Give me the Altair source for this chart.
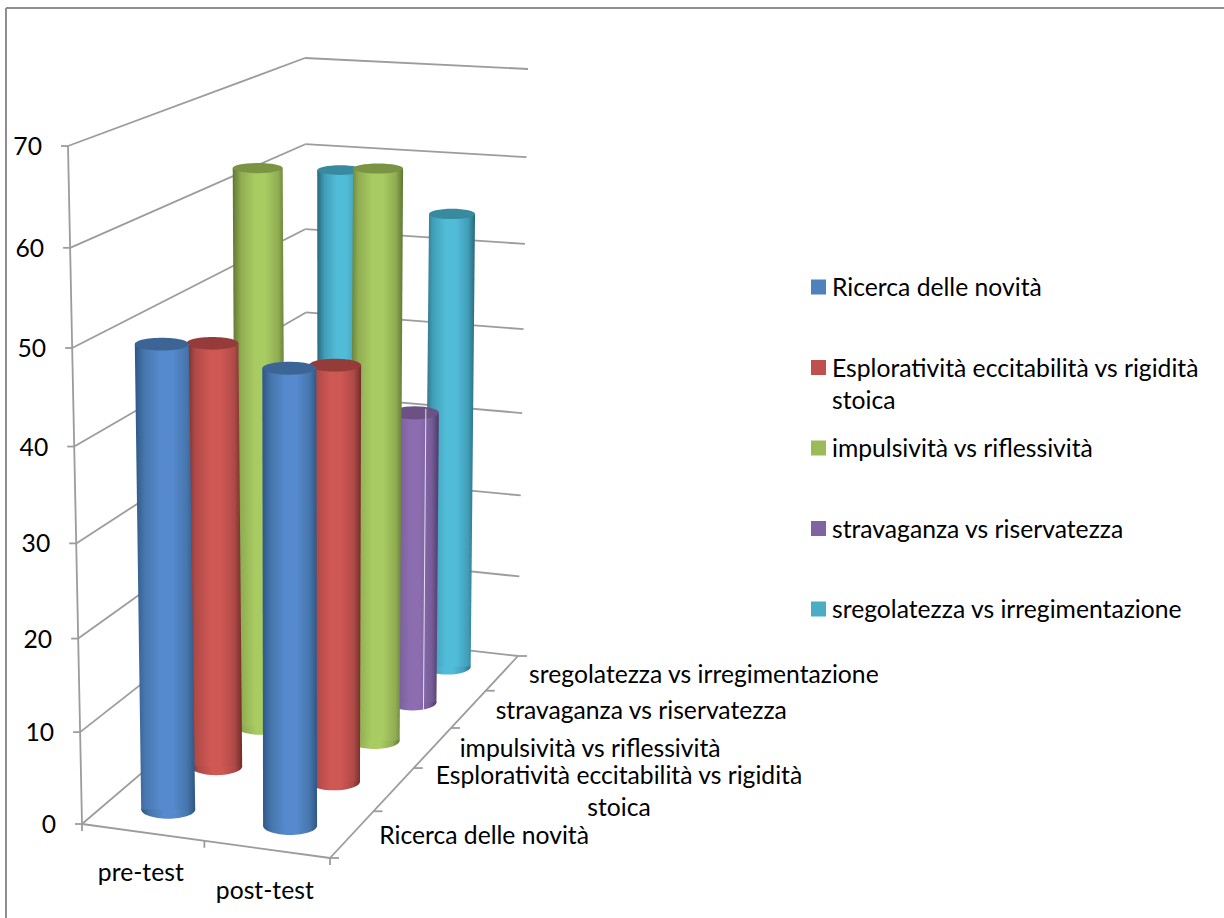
import altair as alt
import numpy as np
import pandas as pd

FONT = "Lato"
FS = 24.7

categories = ["pre-test", "post-test"]
series = [
    "Ricerca delle novità",
    "Esploratività eccitabilità vs rigidità\nstoica",
    "impulsività vs riflessività",
    "stravaganza vs riservatezza",
    "sregolatezza vs irregimentazione",
]
pre_test = [49.5, 46.7, 62.85, 36, 58.4]
post_test = [48.2, 45.5, 63.65, 34.15, 54.2]
value_ticks = [0, 10, 20, 30, 40, 50, 60, 70]

legend_colors = ["#4f81bd", "#c0504d", "#9bbb59", "#8064a2", "#4bacc6"]
edge_colors = ["#2f5685", "#722c2a", "#5f7633", "#4c3a66", "#28697c"]
soft_colors = ["#4676ad", "#ae4a47", "#90ad52", "#775c98", "#419eb7"]
mid_colors = ["#568ace", "#cf5754", "#a8cb62", "#8b6db0", "#51bcd8"]
cap_colors = ["#3c6595", "#953b39", "#7a9444", "#6b5184", "#388a9f"]

VMAX = 70


def homography(corners):
    # Maps the unit square (u, v) onto a quadrilateral given as
    # [(0,0), (1,0), (0,1), (1,1)] image points.
    src = [(0, 0), (1, 0), (0, 1), (1, 1)]
    A, b = [], []
    for (u, v), (x, y) in zip(src, corners):
        A.append([u, v, 1, 0, 0, 0, -u * x, -v * x])
        A.append([0, 0, 0, u, v, 1, -u * y, -v * y])
        b += [x, y]
    h = np.linalg.solve(np.array(A, float), np.array(b, float))
    return np.append(h, 1).reshape(3, 3)


FLOOR = homography([(82, 824), (330, 858), (307, 632), (518, 656)])
CEILING = homography([(68, 146), (333, 165), (305, 58), (528, 69)])


def apply(H, u, v):
    p = H @ np.array([u, v, 1.0])
    return p[0] / p[2], p[1] / p[2]


def project(u, v, value):
    fx, fy = apply(FLOOR, u, v)
    tx, ty = apply(CEILING, u, v)
    t = value / VMAX
    t = t + 0.06 * t * (t - 1)
    return fx + t * (tx - fx), fy + t * (ty - fy)


def ellipse_path(ratio):
    r = round(ratio, 3)
    return f"M-1,0A1,{r} 0 1 1 1,0A1,{r} 0 1 1 -1,0Z"


xs = alt.Scale(domain=[0, 1224], range=[0, 1224], nice=False, zero=False)
ys = alt.Scale(domain=[0, 918], range=[0, 918], nice=False, zero=False)


def X(f="x"):
    return alt.X(f, type="quantitative", scale=xs, axis=None)


def Y(f="y"):
    return alt.Y(f, type="quantitative", scale=ys, axis=None)


def segments(rows, color="#9c9c9c", width=1.8):
    df = pd.DataFrame(rows, columns=["x", "y", "x2", "y2"])
    return alt.Chart(df).mark_rule(color=color, strokeWidth=width).encode(
        x=X(), y=Y(), x2="x2:Q", y2="y2:Q"
    )


def labels(rows, align, baseline="middle", **kw):
    df = pd.DataFrame(rows, columns=["x", "y", "label"])
    return alt.Chart(df).mark_text(
        align=align, baseline=baseline, font=FONT, fontSize=FS, color="#000000", **kw
    ).encode(x=X(), y=Y(), text="label:N")


layers = []

# Outer frame of the chart area
layers.append(segments([(6, 8, 1224, 8), (6, 8, 6, 918)], color="#8e8e8e", width=2))

# Walls: left and back gridlines
wall = []
for val in value_ticks:
    a = project(0, 0, val)
    b = project(0, 1, val)
    c = project(1, 1, val)
    wall.append((*a, *b))
    wall.append((*b, *c))
layers.append(segments(wall))

# Value axis, floor edges and their tick marks
TICK = 7
axis = [(*project(0, 0, 0), *project(0, 0, VMAX))]
for val in value_ticks:
    x, y = project(0, 0, val)
    axis.append((x - TICK, y, x, y))
axis.append((*project(0, 0, 0), *project(1, 0, 0)))
for u in (0, 0.5, 1):
    x, y = project(u, 0, 0)
    axis.append((x, y, x, y + TICK))
axis.append((*project(1, 0, 0), *project(1, 1, 0)))
for k in range(6):
    x, y = project(1, k / 5, 0)
    axis.append((x, y, x + TICK + 2, y))
layers.append(segments(axis))

# Cylinders, drawn from the back row to the front row
values = [pre_test, post_test]
for j in reversed(range(len(series))):
    v = (j + 0.5) / len(series)
    for i in range(len(categories)):
        u = (i + 0.5) / len(categories)
        val = values[i][j]
        bx, by = project(u, v, 0)
        tx, ty = project(u, v, val)
        w = 54 - 10 * (v - 0.1)
        gradient = {
            "gradient": "linear", "x1": 0, "x2": 1, "y1": 0, "y2": 0,
            "stops": [
                {"offset": 0, "color": edge_colors[j]},
                {"offset": 0.16, "color": soft_colors[j]},
                {"offset": 0.42, "color": mid_colors[j]},
                {"offset": 0.62, "color": mid_colors[j]},
                {"offset": 0.86, "color": soft_colors[j]},
                {"offset": 1, "color": edge_colors[j]},
            ],
        }
        ratio_top = 0.36 - 0.0025 * val
        base = pd.DataFrame({"x": [bx], "y": [by]})
        top = pd.DataFrame({"x": [tx], "y": [ty]})
        body = pd.DataFrame({
            "y": [ty, by],
            "xl": [tx - w / 2, bx - w / 2],
            "xr": [tx + w / 2, bx + w / 2],
        })
        layers.append(alt.Chart(base).mark_point(
            shape=ellipse_path(0.34), size=w * w, filled=True, fill=gradient, opacity=1,
            strokeWidth=0,
        ).encode(x=X(), y=Y()))
        layers.append(alt.Chart(body).mark_area(
            orient="horizontal", fill=gradient, opacity=1
        ).encode(x=X("xl"), x2="xr:Q", y=Y()))
        layers.append(alt.Chart(top).mark_point(
            shape=ellipse_path(ratio_top), size=w * w, filled=True, fill=cap_colors[j],
            opacity=1, strokeWidth=0,
        ).encode(x=X(), y=Y()))
        if j == 3 and i == 1:
            layers.append(segments([(tx + 11, ty - 4, bx + 11, by + 8)],
                                   color="#e4dfec", width=1))

# Value axis labels
layers.append(labels(
    [(project(0, 0, val)[0] - 26, project(0, 0, val)[1] + 2, str(val)) for val in value_ticks],
    "right",
))

# Category labels under the front edge
layers.append(labels(
    [(project((i + 0.5) / 2, 0, 0)[0] - 2, project((i + 0.5) / 2, 0, 0)[1] + 42 + i, c)
     for i, c in enumerate(categories)],
    "center",
))

# Series labels beside the depth axis
plain, wrapped = [], []
for j, name in enumerate(series):
    x, y = project(1, (j + 0.5) / len(series), 0)
    if "\n" in name:
        wrapped.append((x + 225, y - 12, name))
    else:
        plain.append((x + 27, y + 3 - (1 if j == 2 else 0), name))
layers.append(labels(plain, "left"))
layers.append(labels(wrapped, "center", lineBreak="\n", lineHeight=32))

# Legend
LEG_TOP, LEG_STEP = 287, 80.5
swatches = pd.DataFrame({
    "x": [818.5] * len(series),
    "y": [LEG_TOP + LEG_STEP * k for k in range(len(series))],
    "name": series,
})
layers.append(alt.Chart(swatches).mark_square(size=225, opacity=1).encode(
    x=X(), y=Y(),
    color=alt.Color("name:N", scale=alt.Scale(domain=series, range=legend_colors), legend=None),
))
leg_rows = [(832, LEG_TOP + LEG_STEP * k + 2, name) for k, name in enumerate(series)]
layers.append(labels(leg_rows, "left", lineBreak="\n", lineHeight=32))

chart = alt.layer(*layers).properties(
    width=1224, height=918, padding=0, autosize="none", background="white"
).configure_view(stroke=None)

chart.save("out.html", embed_options={"renderer": "svg", "actions": False})
